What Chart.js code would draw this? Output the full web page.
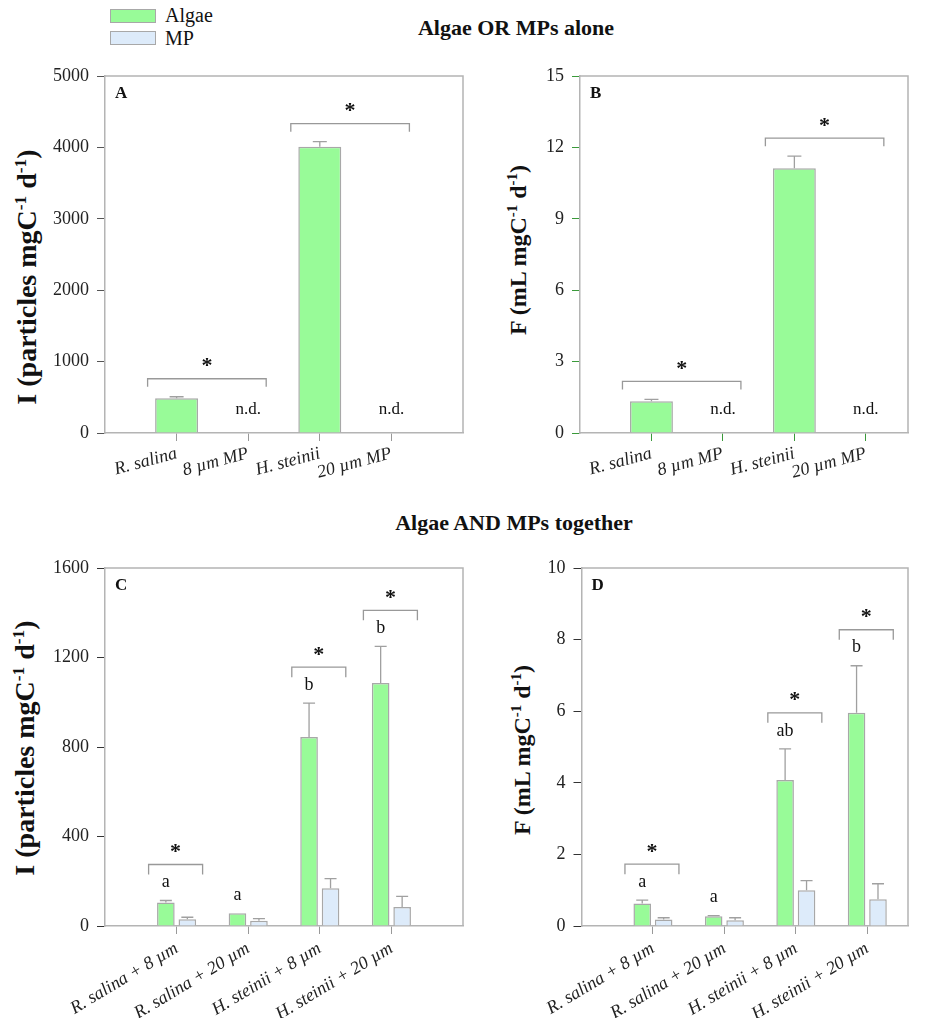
<!DOCTYPE html>
<html>
<head>
<meta charset="utf-8">
<script src="https://cdn.jsdelivr.net/npm/chart.js@4.4.0/dist/chart.umd.min.js"></script>
<style>
  body { margin: 0; background: #fff; font-family: 'Liberation Serif', 'Times New Roman', serif; color: #111; }
  #page { position: relative; width: 928px; height: 1018px; overflow: hidden; }
  canvas { position: absolute; display: block; }
  .title { position: absolute; font-weight: bold; font-size: 22px; white-space: nowrap; transform: translate(-50%, -50%); }
  .ytitle { position: absolute; font-weight: bold; white-space: nowrap; transform: translate(-50%, -50%) rotate(-90deg); }
  .ytitle sup { font-size: 62%; line-height: 0; vertical-align: 0.55em; }
  .lg-box { position: absolute; width: 44px; height: 12px; border: 1px solid #a8a8a8; }
  .lg-txt { position: absolute; font-size: 20px; transform: translateY(-50%); }
</style>
</head>
<body>
<div id="page">
  <div class="lg-box" style="left:110px; top:9px; background:#98fb98;"></div>
  <div class="lg-txt" style="left:165px; top:15px;">Algae</div>
  <div class="lg-box" style="left:110px; top:31px; background:#ddebfa;"></div>
  <div class="lg-txt" style="left:165px; top:38px;">MP</div>

  <div class="title" style="left:516px; top:28px;">Algae OR MPs alone</div>
  <div class="title" style="left:514px; top:523px;">Algae AND MPs together</div>

  <div class="ytitle" style="left:27px; top:277px; font-size:28px;">I (particles mgC<sup>-1</sup> d<sup>-1</sup>)</div>
  <div class="ytitle" style="left:518px; top:250px; font-size:24px;">F (mL mgC<sup>-1</sup> d<sup>-1</sup>)</div>
  <div class="ytitle" style="left:25px; top:748px; font-size:28px;">I (particles mgC<sup>-1</sup> d<sup>-1</sup>)</div>
  <div class="ytitle" style="left:522px; top:750px; font-size:24px;">F (mL mgC<sup>-1</sup> d<sup>-1</sup>)</div>

  <canvas id="chartA" width="480" height="440" style="left:0px; top:56px;"></canvas>
  <canvas id="chartB" width="448" height="440" style="left:480px; top:56px;"></canvas>
  <canvas id="chartC" width="480" height="470" style="left:0px; top:548px;"></canvas>
  <canvas id="chartD" width="448" height="470" style="left:480px; top:548px;"></canvas>
</div>

<script>
// categories
const aloneCategories = ['R. salina', '8 µm MP', 'H. steinii', '20 µm MP'];
const mixCategories = ['R. salina + 8 µm', 'R. salina + 20 µm', 'H. steinii + 8 µm', 'H. steinii + 20 µm'];

// A - ingestion, algae or MPs alone (MPs not detected)
const ingestionAlone = [486, null, 4010, null];
const ingestionAloneErr = [22, null, 70, null];
// B - clearance, algae or MPs alone
const clearanceAlone = [1.33, null, 11.12, null];
const clearanceAloneErr = [0.08, null, 0.51, null];
const aloneNotDetected = [false, true, false, true];
const aloneSignificantPairs = [[0, 1], [2, 3]];

// C - ingestion, algae and MPs together
const ingestionAlgae = [105, 57, 845, 1086];
const ingestionAlgaeErr = [9, 0, 151, 164];
const ingestionMP = [30, 24, 169, 85];
const ingestionMPErr = [9, 9, 43, 47];
const ingestionLetters = ['a', 'a', 'b', 'b'];
const ingestionSignificant = [true, false, true, true];

// D - clearance, algae and MPs together
const clearanceAlgae = [0.63, 0.27, 4.08, 5.96];
const clearanceAlgaeErr = [0.09, 0.02, 0.87, 1.31];
const clearanceMP = [0.18, 0.16, 1.0, 0.75];
const clearanceMPErr = [0.05, 0.07, 0.27, 0.43];
const clearanceLetters = ['a', 'a', 'ab', 'b'];
const clearanceSignificant = [true, false, true, true];

// y axis ranges
const yMaxA = 5000, yStepA = 1000;
const yMaxB = 15, yStepB = 3;
const yMaxC = 1600, yStepC = 400;
const yMaxD = 10, yStepD = 2;

const GREEN = '#98fb98';
const BLUE = '#ddebfa';
const EDGE = '#a8a8a8';
const AXIS = '#b4b4b4';
const FONT = "'Liberation Serif', 'Times New Roman', serif";

Chart.defaults.font.family = FONT;
Chart.defaults.color = '#111';

const toPoints = arr => arr.map((v, i) => ({ x: i + 1, y: v }));

// error bars, frame, letters, significance brackets
const annotPlugin = {
  id: 'annot',
  afterDatasetsDraw(chart, args, o) {
    const { ctx, chartArea: ca, scales: { x, y } } = chart;
    ctx.save();
    ctx.strokeStyle = AXIS;
    ctx.lineWidth = 1.5;
    ctx.beginPath();
    ctx.moveTo(ca.left, ca.top);
    ctx.lineTo(ca.right, ca.top);
    ctx.lineTo(ca.right, ca.bottom);
    ctx.stroke();

    const errTop = [];   // per dataset, per category
    chart.data.datasets.forEach((ds, di) => {
      errTop[di] = [];
      chart.getDatasetMeta(di).data.forEach((bar, i) => {
        const v = ds.data[i].y;
        if (v == null) return;
        const e = o.errors[di][i] || 0;
        const yt = y.getPixelForValue(v + e);
        errTop[di][i] = { x: bar.x, y: yt };
        if (e > 0) {
          ctx.strokeStyle = '#a0a0a0';
          ctx.lineWidth = 1.3;
          ctx.beginPath();
          ctx.moveTo(bar.x, bar.y);
          ctx.lineTo(bar.x, yt);
          ctx.moveTo(bar.x - o.cap, yt);
          ctx.lineTo(bar.x + o.cap, yt);
          ctx.stroke();
        }
      });
    });

    ctx.fillStyle = '#111';
    ctx.textAlign = 'center';
    ctx.textBaseline = 'middle';

    const bracket = (x0, x1, yb) => {
      ctx.strokeStyle = '#999';
      ctx.lineWidth = 1.3;
      ctx.beginPath();
      ctx.moveTo(x0, yb + o.leg);
      ctx.lineTo(x0, yb);
      ctx.lineTo(x1, yb);
      ctx.lineTo(x1, yb + o.leg);
      ctx.stroke();
      ctx.font = 'bold 22px ' + FONT;
      ctx.fillText('*', (x0 + x1) / 2, yb - 12);
    };

    if (o.notDetected) {
      ctx.font = '17px ' + FONT;
      o.notDetected.forEach((nd, i) => {
        if (nd) ctx.fillText('n.d.', x.getPixelForValue(i + 1), ca.bottom - 23);
      });
    }
    if (o.pairs) {
      o.pairs.forEach(([a, b]) => {
        const t = errTop[0][a];
        bracket(x.getPixelForValue(a + 1) - 29, x.getPixelForValue(b + 1) + 18, t.y - 18);
      });
    }
    if (o.letters) {
      o.letters.forEach((txt, i) => {
        const g = errTop[0][i];
        ctx.font = '18px ' + FONT;
        ctx.fillText(txt, g.x, g.y - 18);
        if (o.significant[i]) {
          const top = Math.min(...errTop.map(d => d[i] ? d[i].y : Infinity));
          const cx = x.getPixelForValue(i + 1);
          bracket(cx - 28, cx + 26, top - 36);
        }
      });
    }

    ctx.font = 'bold 17px ' + FONT;
    ctx.textAlign = 'left';
    ctx.fillText(o.panel, ca.left + 10, ca.top + 18);
    ctx.restore();
  }
};

function makeChart(id, cfg) {
  const datasets = cfg.series.map(s => ({
    data: toPoints(s.values),
    backgroundColor: s.color,
    borderColor: EDGE,
    borderWidth: 1.5,
    categoryPercentage: 0.6,
    barPercentage: cfg.series.length > 1 ? 0.82 : 1
  }));
  const tickCol = cfg.tickColor || '#333';
  return new Chart(document.getElementById(id), {
    type: 'bar',
    data: { datasets },
    plugins: [annotPlugin],
    options: {
      responsive: false,
      animation: false,
      layout: { padding: { top: cfg.padTop, right: cfg.padRight, left: 0, bottom: 0 } },
      plugins: {
        legend: { display: false },
        tooltip: { enabled: false },
        annot: cfg.annot
      },
      scales: {
        x: {
          type: 'linear',
          min: 0,
          max: cfg.xMax,
          offset: false,
          afterBuildTicks: s => { s.ticks = cfg.categories.map((c, i) => ({ value: i + 1 })); },
          afterFit: s => { s.height = cfg.xHeight; },
          ticks: {
            autoSkip: false,
            minRotation: cfg.rotation,
            maxRotation: cfg.rotation,
            padding: cfg.xPad,
            color: '#222',
            font: { size: cfg.xFont, style: 'italic' },
            callback: v => cfg.categories[v - 1] || ''
          },
          grid: { offset: false, drawOnChartArea: false, tickLength: 8, color: cfg.xTickColor || '#999' },
          border: { color: AXIS, width: 1.5 }
        },
        y: {
          min: 0,
          max: cfg.yMax,
          afterFit: s => { s.width = cfg.yWidth; },
          ticks: { stepSize: cfg.yStep, padding: 8, color: '#222', font: { size: 18 }, format: { useGrouping: false } },
          grid: { drawOnChartArea: false, tickLength: 8, color: tickCol },
          border: { color: AXIS, width: 1.5 }
        }
      }
    }
  });
}

makeChart('chartA', {
  categories: aloneCategories, rotation: 15, xFont: 18, xPad: 2, xMax: 5,
  yMax: yMaxA, yStep: yStepA, yWidth: 105, xHeight: 440 - (433 - 56), padTop: 20, padRight: 17,
  tickColor: '#555', xTickColor: '#999',
  series: [{ values: ingestionAlone, color: GREEN }],
  annot: { panel: 'A', errors: [ingestionAloneErr], cap: 7, leg: 8, notDetected: aloneNotDetected, pairs: aloneSignificantPairs }
});

makeChart('chartB', {
  categories: aloneCategories, rotation: 15, xFont: 18, xPad: 2, xMax: 4.59,
  yMax: yMaxB, yStep: yStepB, yWidth: 100, xHeight: 440 - (433 - 56), padTop: 20, padRight: 20,
  tickColor: '#3a9a3a', xTickColor: '#3a9a3a',
  series: [{ values: clearanceAlone, color: GREEN }],
  annot: { panel: 'B', errors: [clearanceAloneErr], cap: 7, leg: 8, notDetected: aloneNotDetected, pairs: aloneSignificantPairs }
});

makeChart('chartC', {
  categories: mixCategories, rotation: 31, xFont: 18, xPad: 4, xMax: 5,
  yMax: yMaxC, yStep: yStepC, yWidth: 105, xHeight: 470 - (926 - 548), padTop: 20, padRight: 17,
  tickColor: '#333', xTickColor: '#999',
  series: [{ values: ingestionAlgae, color: GREEN }, { values: ingestionMP, color: BLUE }],
  annot: { panel: 'C', errors: [ingestionAlgaeErr, ingestionMPErr], cap: 6, leg: 10, letters: ingestionLetters, significant: ingestionSignificant }
});

makeChart('chartD', {
  categories: mixCategories, rotation: 31, xFont: 18, xPad: 4, xMax: 4.57,
  yMax: yMaxD, yStep: yStepD, yWidth: 101.5, xHeight: 470 - (926 - 548), padTop: 20, padRight: 20,
  tickColor: '#333', xTickColor: '#999',
  series: [{ values: clearanceAlgae, color: GREEN }, { values: clearanceMP, color: BLUE }],
  annot: { panel: 'D', errors: [clearanceAlgaeErr, clearanceMPErr], cap: 6, leg: 10, letters: clearanceLetters, significant: clearanceSignificant }
});
</script>
</body>
</html>
